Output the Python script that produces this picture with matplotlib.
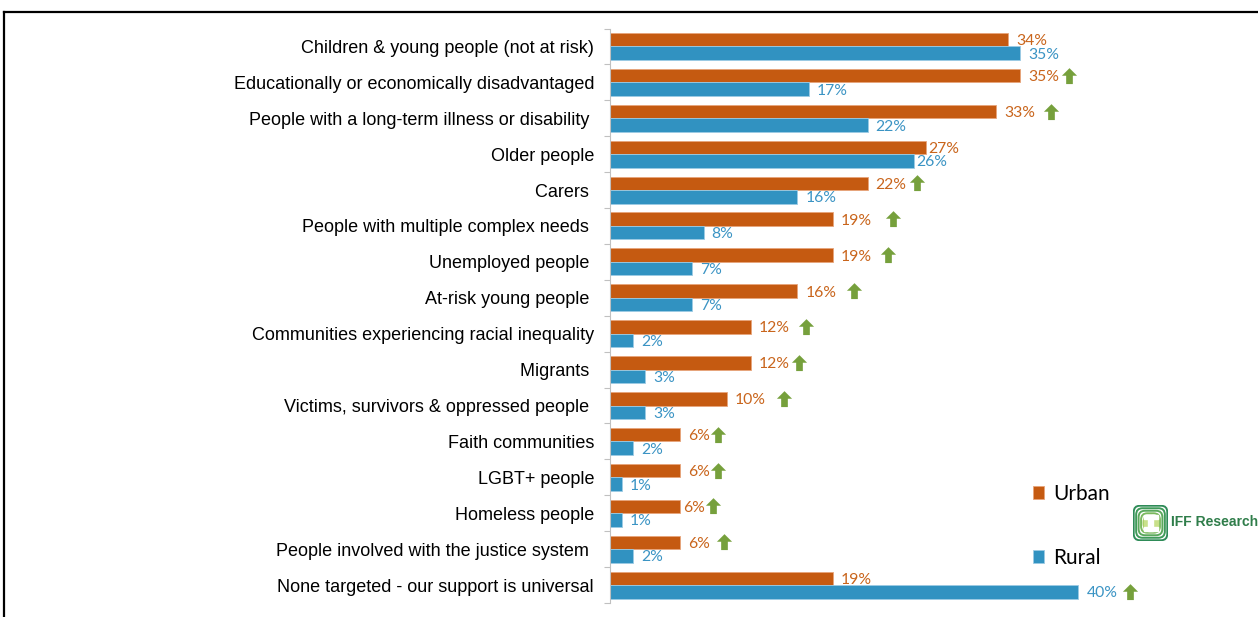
import matplotlib
matplotlib.use("Agg")
import matplotlib.pyplot as plt
import numpy as np
from matplotlib.path import Path
from matplotlib.lines import Line2D
from matplotlib.patches import FancyBboxPatch, Rectangle

# ---------------- data ----------------
categories = [
    "Children & young people (not at risk)",
    "Educationally or economically disadvantaged",
    "People with a long-term illness or disability ",
    "Older people",
    "Carers ",
    "People with multiple complex needs ",
    "Unemployed people ",
    "At-risk young people ",
    "Communities experiencing racial inequality",
    "Migrants ",
    "Victims, survivors & oppressed people ",
    "Faith communities",
    "LGBT+ people",
    "Homeless people",
    "People involved with the justice system ",
    "None targeted - our support is universal",
]
urban = [34, 35, 33, 27, 22, 19, 19, 16, 12, 12, 10, 6, 6, 6, 6, 19]
rural = [35, 17, 22, 26, 16, 8, 7, 7, 2, 3, 3, 2, 1, 1, 2, 40]
# significance arrows: x position (in % units) and which series row they sit on
arrow_x = [None, 39.2, 37.7, None, 26.2, 24.2, 23.7, 20.8, 16.7, 16.1, 14.9,
           9.2, 9.2, 8.8, 9.7, 44.4]
arrow_series = ["urban"] * 15 + ["rural"]
series_names = ["Urban", "Rural"]

# ---------------- style ----------------
URBAN = "#c55a11"
RURAL = "#3192c1"
URBAN_TXT = "#c9651c"
RURAL_TXT = "#3b94c4"
ARROW = "#76a03c"
AXIS_GREY = "#c0c0c0"

W, H = 1258, 617
fig = plt.figure(figsize=(W / 100, H / 100), dpi=100)

ax = fig.add_axes([610 / W, 14 / H, 538.7 / W, 574.5 / H])
n = len(categories)
y = np.arange(n)
bh = 0.376

ax.barh(y - bh / 2, urban, height=bh, color=URBAN, edgecolor="#e8a47a",
        linewidth=0.6, label=series_names[0])
ax.barh(y + bh / 2, rural, height=bh, color=RURAL, edgecolor="#9ccbe4",
        linewidth=0.6, label=series_names[1])

ax.set_xlim(0, 46)
ax.set_ylim(n - 0.5, -0.5)

ax.set_yticks(y)
ax.set_yticklabels(categories, fontsize=13, family=["Liberation Sans", "DejaVu Sans"],
                   color="#000000")
ax.tick_params(axis="y", which="major", length=0, pad=11.5)
ax.set_yticks(np.arange(-0.5, n + 0.5, 1), minor=True)
ax.tick_params(axis="y", which="minor", length=4, color=AXIS_GREY, width=0.8)
ax.set_xticks([])
for s in ["top", "right", "bottom"]:
    ax.spines[s].set_visible(False)
ax.spines["left"].set_color(AXIS_GREY)
ax.spines["left"].set_linewidth(0.8)

# value labels
urban_off = [8] * n
rural_off = [8] * n
urban_off[3] = 2
rural_off[3] = 2
urban_off[13] = 3
lab_font = ["Lato", "DejaVu Sans"]
for i in range(n):
    ax.annotate(f"{urban[i]}%", xy=(urban[i], y[i] - bh / 2), xytext=(urban_off[i], -1.5),
                textcoords="offset pixels", va="center", ha="left",
                fontsize=11.3, color=URBAN_TXT, family=lab_font)
    ax.annotate(f"{rural[i]}%", xy=(rural[i], y[i] + bh / 2), xytext=(rural_off[i], -1.5),
                textcoords="offset pixels", va="center", ha="left",
                fontsize=11.3, color=RURAL_TXT, family=lab_font)

# up arrows (custom marker)
verts = [(-0.5, 0.05), (0.0, 0.55), (0.5, 0.05), (0.22, 0.05), (0.22, -0.5),
         (-0.22, -0.5), (-0.22, 0.05), (-0.5, 0.05)]
codes = [Path.MOVETO] + [Path.LINETO] * 6 + [Path.CLOSEPOLY]
up_arrow = Path(verts, codes)
ax_x, ax_y = [], []
for i in range(n):
    if arrow_x[i] is None:
        continue
    ax_x.append(arrow_x[i])
    ax_y.append(y[i] - bh / 2 if arrow_series[i] == "urban" else y[i] + bh / 2)
ax.plot(ax_x, ax_y, linestyle="none", marker=up_arrow, markersize=12,
        color=ARROW, markeredgewidth=0, clip_on=False)

# legend
fig.legend(loc="center left", bbox_to_anchor=(1033 / W, (H - 526) / H),
           bbox_transform=fig.transFigure, frameon=False,
           prop={"family": lab_font, "size": 15},
           handlelength=0.55, handleheight=0.55, handletextpad=0.4,
           labelspacing=2.1, borderaxespad=0, borderpad=0)

# frame lines
fig.add_artist(Line2D([4 / W, 4 / W], [0, (H - 12) / H], transform=fig.transFigure,
                      color="black", linewidth=1.6))
fig.add_artist(Line2D([4 / W, 1], [(H - 12) / H, (H - 12) / H], transform=fig.transFigure,
                      color="black", linewidth=1.6))

# logo (approximation)
lax = fig.add_axes([1133 / W, (H - 541) / H, 35 / W, 36 / H])
lax.set_xlim(0, 1)
lax.set_ylim(0, 1)
lax.axis("off")
greens = ["#2e8b57", "#3f9a5a", "#5aa85c", "#7bb95e", "#a4cc62"]
for k, c in enumerate(greens):
    pad = 0.02 + k * 0.07
    lax.add_patch(FancyBboxPatch((pad, pad), 1 - 2 * pad, 1 - 2 * pad,
                                 boxstyle="round,pad=0,rounding_size=0.18",
                                 fill=False, edgecolor=c, linewidth=1.4))
lax.add_patch(Rectangle((0.3, 0.3), 0.4, 0.4, color="#c9e08a"))
lax.add_patch(Rectangle((0.3, 0.62), 0.4, 0.1, color="white"))
lax.add_patch(Rectangle((0.3, 0.28), 0.4, 0.1, color="white"))
lax.add_patch(Rectangle((0.43, 0.28), 0.14, 0.44, color="white"))
fig.text(1171 / W, (H - 522) / H, "IFF Research", fontsize=10, fontweight="bold",
         color="#2f7d4a", va="center", ha="left",
         family=["Liberation Sans Narrow", "Liberation Sans", "DejaVu Sans"])

fig.savefig("out.png", dpi=100)
